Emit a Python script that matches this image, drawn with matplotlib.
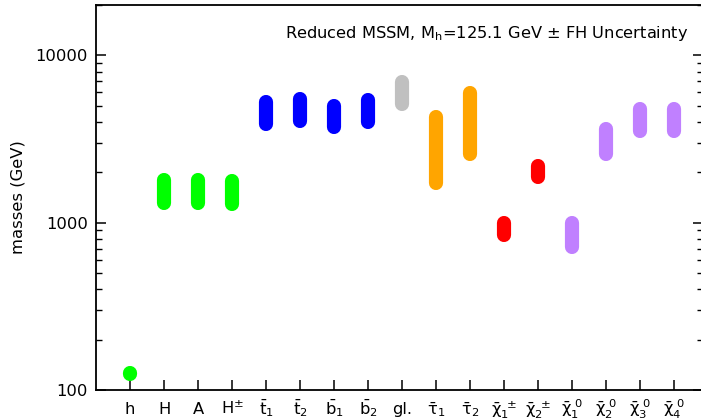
import matplotlib
matplotlib.use("Agg")
import matplotlib.pyplot as plt
from matplotlib.ticker import LogLocator, NullFormatter, FixedLocator

# particle labels and mass ranges (GeV)
labels = [r"h", r"H", r"A", r"H$^{\pm}$",
          r"$\bar{\mathrm{t}}_1$", r"$\bar{\mathrm{t}}_2$",
          r"$\bar{\mathrm{b}}_1$", r"$\bar{\mathrm{b}}_2$", r"gl.",
          r"$\bar{\mathrm{\tau}}_1$", r"$\bar{\mathrm{\tau}}_2$",
          r"$\bar{\mathrm{\chi}}_1^{\ \pm}$", r"$\bar{\mathrm{\chi}}_2^{\ \pm}$",
          r"$\bar{\mathrm{\chi}}_1^{\ 0}$", r"$\bar{\mathrm{\chi}}_2^{\ 0}$",
          r"$\bar{\mathrm{\chi}}_3^{\ 0}$", r"$\bar{\mathrm{\chi}}_4^{\ 0}$"]
mass_lo = [124.5, 1307, 1310, 1300, 3873, 4036, 3715, 4000, 5118,
           1722, 2565, 845, 1869, 714, 2576, 3533, 3533]
mass_hi = [125.8, 1787, 1790, 1780, 5241, 5458, 5009, 5440, 6966,
           4268, 5958, 997, 2195, 997, 3632, 4760, 4760]
colors = ["#00ff00", "#00ff00", "#00ff00", "#00ff00",
          "#0000ff", "#0000ff", "#0000ff", "#0000ff", "#c0c0c0",
          "#ffa500", "#ffa500", "#ff0000", "#ff0000",
          "#c080ff", "#c080ff", "#c080ff", "#c080ff"]

fig = plt.figure(figsize=(7.01, 4.18), dpi=100)
W, H = 701, 418
ax = fig.add_axes([96 / W, (H - 390) / H, (703 - 96) / W, 385 / H])

for i in range(len(labels)):
    ax.plot([i + 1, i + 1], [mass_lo[i], mass_hi[i]], color=colors[i],
            lw=10.2, solid_capstyle="round")

ax.set_yscale("log")
ax.set_ylim(100, 20000)
ax.set_xlim(0, 17.85)
ax.set_yticks([100, 1000, 10000])
ax.set_yticklabels(["100", "1000", "10000"])
ax.yaxis.set_minor_locator(LogLocator(base=10, subs=range(2, 10)))
ax.yaxis.set_minor_formatter(NullFormatter())
ax.xaxis.set_major_locator(FixedLocator(range(1, len(labels) + 1)))
ax.set_xticklabels(labels)
for t in ax.get_xticklabels():
    t.set_verticalalignment("baseline")

ax.tick_params(axis="both", which="major", direction="in", length=7,
               width=1.1, labelsize=11.8, right=True, top=False)
ax.tick_params(axis="y", which="minor", direction="in", length=4,
               width=1.0, right=True)
ax.tick_params(axis="x", pad=17.5)
ax.tick_params(axis="y", pad=6)
for s in ax.spines.values():
    s.set_linewidth(1.3)

ax.set_ylabel("masses (GeV)", fontsize=11.8, labelpad=7)
ax.text(0.976, 0.925, r"Reduced MSSM, M$_\mathrm{h}$=125.1 GeV $\pm$ FH Uncertainty",
        transform=ax.transAxes, ha="right", va="center", fontsize=11.7)

fig.savefig("out.png", dpi=100)
